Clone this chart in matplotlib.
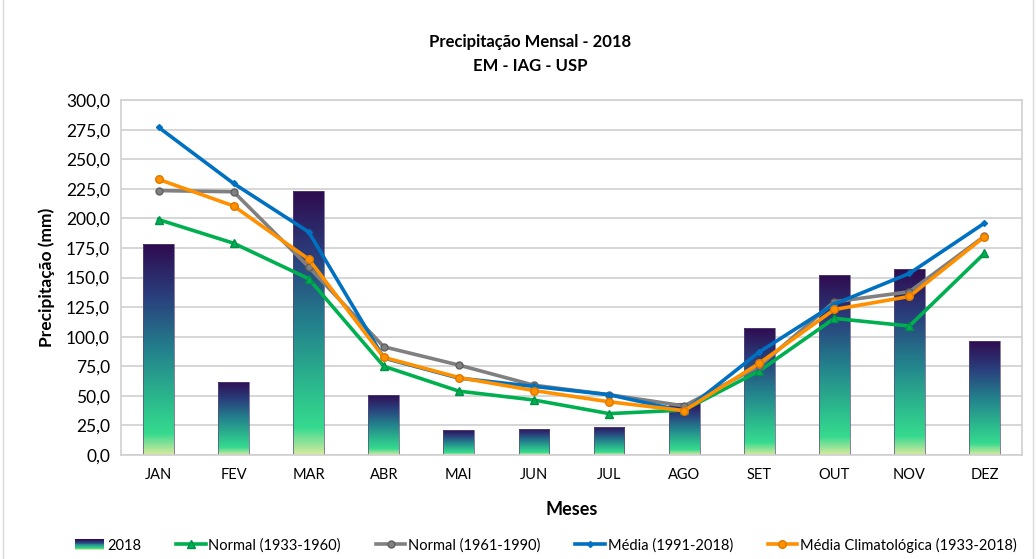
import numpy as np
import matplotlib
matplotlib.use("Agg")
import matplotlib.pyplot as plt
from matplotlib.colors import LinearSegmentedColormap
from matplotlib.patches import Rectangle
from matplotlib.legend_handler import HandlerBase
from matplotlib.ticker import FuncFormatter

plt.rcParams['font.family'] = ['Lato', 'DejaVu Sans']

months = ["JAN", "FEV", "MAR", "ABR", "MAI", "JUN", "JUL", "AGO", "SET", "OUT", "NOV", "DEZ"]
prec_2018 = [178, 62, 223, 51, 21, 22, 24, 44, 107, 152, 157, 96]
normal_1933_1960 = [199, 179, 149, 75, 54, 46.5, 35, 38, 71, 115.5, 109, 170.5]
normal_1961_1990 = [223.5, 222.5, 159, 91.5, 76, 59, 51, 41.5, 75, 129.5, 138, 185]
media_1991_2018 = [277, 229.5, 188.5, 82, 65, 58, 51, 37, 87, 127.5, 153.5, 196]
media_clim_1933_2018 = [233, 210.5, 165.5, 82.5, 65.5, 54.5, 45, 37.5, 77.5, 123, 134, 184.5]

cmap = LinearSegmentedColormap.from_list("barfill", [
    (0.0, "#2f0b4f"), (0.25, "#2a3f7d"), (0.5, "#23808c"),
    (0.75, "#2cbb8d"), (0.9, "#36da8f"), (1.0, "#d8ea9e")])

fig = plt.figure(figsize=(10.36, 5.59), dpi=100)
ax = fig.add_axes([0.1168, 0.186, 0.8697, 0.635])
x = np.arange(len(months))
w = 0.41
grad = np.linspace(0, 1, 256).reshape(-1, 1)
bars = ax.bar(x, prec_2018, width=w, facecolor='none', edgecolor="#5a4a7a", lw=0.5, zorder=2.1)
for b, xi, v in zip(bars, x, prec_2018):
    im = ax.imshow(grad, cmap=cmap, aspect='auto', extent=[xi - w/2 - 0.02, xi + w/2 + 0.02, 0, v + 0.5],
                   origin='upper', zorder=2, interpolation='nearest')
    im.set_clip_path(b)

lw = 2.6
ax.plot(x, normal_1933_1960, color="#00b050", lw=lw, marker="^", ms=5.5, mec="#00904a", zorder=3, label="Normal (1933-1960)")
ax.plot(x, normal_1961_1990, color="#808080", lw=lw, marker="o", ms=5, mec="#606060", zorder=3, label="Normal (1961-1990)")
ax.plot(x, media_1991_2018, color="#0070c0", lw=lw, marker="D", ms=3, zorder=4, label="Média (1991-2018)")
ax.plot(x, media_clim_1933_2018, color="#ff9000", lw=lw, marker="o", ms=5.5, mec="#e07800", zorder=5, label="Média Climatológica (1933-2018)")

ax.set_xlim(-0.5, 11.5)
ax.set_ylim(0, 300)
ax.set_yticks(np.arange(0, 301, 25))
ax.yaxis.set_major_formatter(FuncFormatter(lambda v, p: f"{v:.1f}".replace(".", ",")))
ax.set_xticks(x)
ax.set_xticklabels(months)
ax.tick_params(axis='y', labelsize=12.5, length=0, pad=8)
ax.tick_params(axis='x', labelsize=10.5, length=0, pad=9)
ax.grid(axis='y', color="#d0d0d0", lw=1.2, zorder=0)
ax.set_axisbelow(True)
for s in ax.spines.values():
    s.set_color("#d0d0d0")
    s.set_linewidth(1.2)
ax.set_ylabel("Precipitação (mm)", fontsize=12.5, fontweight='bold', labelpad=8)
ax.set_xlabel("Meses", fontsize=13, fontweight='bold', labelpad=14)

fig.text(0.512, 0.925, "Precipitação Mensal - 2018", ha='center', va='center', fontsize=12, fontweight='bold')
fig.text(0.512, 0.882, "EM - IAG - USP", ha='center', va='center', fontsize=12, fontweight='bold')

class GradHandler(HandlerBase):
    def create_artists(self, legend, orig, xd, yd, width, height, fontsize, trans):
        arts = []
        n = 12
        for i in range(n):
            c = cmap(i / (n - 1))
            r = Rectangle((xd, yd + height - (i + 1) * height / n), width, height / n,
                          facecolor=c, edgecolor='none', transform=trans)
            arts.append(r)
        return arts

bar_handle = Rectangle((0, 0), 1, 1)
handles = [bar_handle] + ax.get_lines()
labels = ["2018"] + [l.get_label() for l in ax.get_lines()]
fig.legend(handles, labels, loc='center', bbox_to_anchor=(0.527, 0.025), ncol=5, frameon=False,
           fontsize=10.5, handlelength=2.0, columnspacing=2.4, handletextpad=0.2,
           handler_map={bar_handle: GradHandler()})

fig.add_artist(Rectangle((0.003, -0.01), 0.994, 1.2, transform=fig.transFigure, fill=False,
                         edgecolor="#d9d9d9", lw=1))
fig.savefig("out.png", dpi=100)
